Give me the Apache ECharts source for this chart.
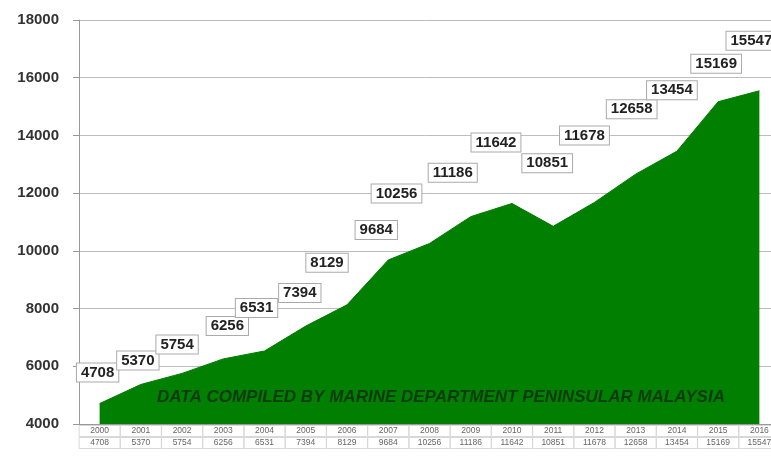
<!DOCTYPE html>
<html>
<head>
<meta charset="utf-8">
<script src="https://cdn.jsdelivr.net/npm/echarts@6/dist/echarts.min.js"></script>
<style>
html,body{margin:0;padding:0;background:#fff;}
#chart{width:771px;height:456px;}
</style>
</head>
<body>
<div id="chart"></div>
<script>
var years = ['2000','2001','2002','2003','2004','2005','2006','2007','2008','2009','2010','2011','2012','2013','2014','2015','2016'];
var vessels = [4708,5370,5754,6256,6531,7394,8129,9684,10256,11186,11642,10851,11678,12658,13454,15169,15547];
var yTicks = [4000,6000,8000,10000,12000,14000,16000,18000];
var note = 'DATA COMPILED BY MARINE DEPARTMENT PENINSULAR MALAYSIA';
// label box offsets relative to each point (layout only)
var labelOffsets = [[-2,-31],[-3,-24],[-5,-29],[4,-33],[-8,-43],[-6,-33],[-20,-42],[-12,-30],[-33,-50],[-18,-44],[-16,-61],[-6,-63],[-10,-67],[-4,-65],[-5,-61],[-2,-38],[-8,-50]];

var chart = echarts.init(document.getElementById('chart'), null, {renderer:'canvas'});
var seriesData = vessels.map(function(v,i){
  return {value:v, label:{offset:labelOffsets[i]}};
});
chart.setOption({
  animation:false,
  backgroundColor:'#fff',
  grid:{left:79, width:701, top:20, height:404, containLabel:false, outerBoundsMode:'none'},
  xAxis:{
    type:'category',
    data:years,
    boundaryGap:true,
    axisLine:{show:true, lineStyle:{color:'#999', width:1}},
    axisTick:{show:false},
    axisLabel:{
      margin:1,
      interval:0,
      formatter:function(val, idx){ return '{y|'+val+'}\n{v|'+vessels[idx]+'}'; },
      rich:{
        y:{width:41, height:11, align:'center', fontSize:8.5, color:'#666', fontFamily:'Arial', borderColor:'#d8d8d8', borderWidth:1, lineHeight:12},
        v:{width:41, height:11, align:'center', fontSize:8.5, color:'#666', fontFamily:'Arial', borderColor:'#d8d8d8', borderWidth:1, lineHeight:12}
      }
    },
    splitLine:{show:false}
  },
  yAxis:{
    type:'value',
    min:yTicks[0], max:yTicks[yTicks.length-1], interval:2000,
    axisLine:{show:true, lineStyle:{color:'#999', width:1}},
    axisTick:{show:true, length:6, lineStyle:{color:'#999'}},
    axisLabel:{margin:20, fontSize:15, fontWeight:'bold', color:'#333', fontFamily:'Arial',
      formatter:function(v){ return String(v); }},
    splitLine:{show:true, lineStyle:{color:'#bdbdbd', width:1}}
  },
  graphic:[{
    type:'text',
    left:157, top:389,
    style:{text:note, fontSize:17, fontWeight:'bold', fontStyle:'italic', fontFamily:'Arial', fill:'#0c3a0c'},
    z:100
  }],
  series:[{
    type:'line',
    data:seriesData,
    symbol:'circle',
    symbolSize:0,
    showSymbol:true,
    lineStyle:{color:'#007a00', width:1},
    areaStyle:{color:'#007f00', opacity:1},
    itemStyle:{color:'#007a00'},
    label:{
      show:true,
      position:'inside',
      fontSize:15,
      fontWeight:'bold',
      fontFamily:'Arial',
      color:'#222',
      backgroundColor:'#fff',
      borderColor:'#aaa',
      borderWidth:1,
      padding:[2,4,1,4]
    },
    z:5
  }]
});
</script>
</body>
</html>
